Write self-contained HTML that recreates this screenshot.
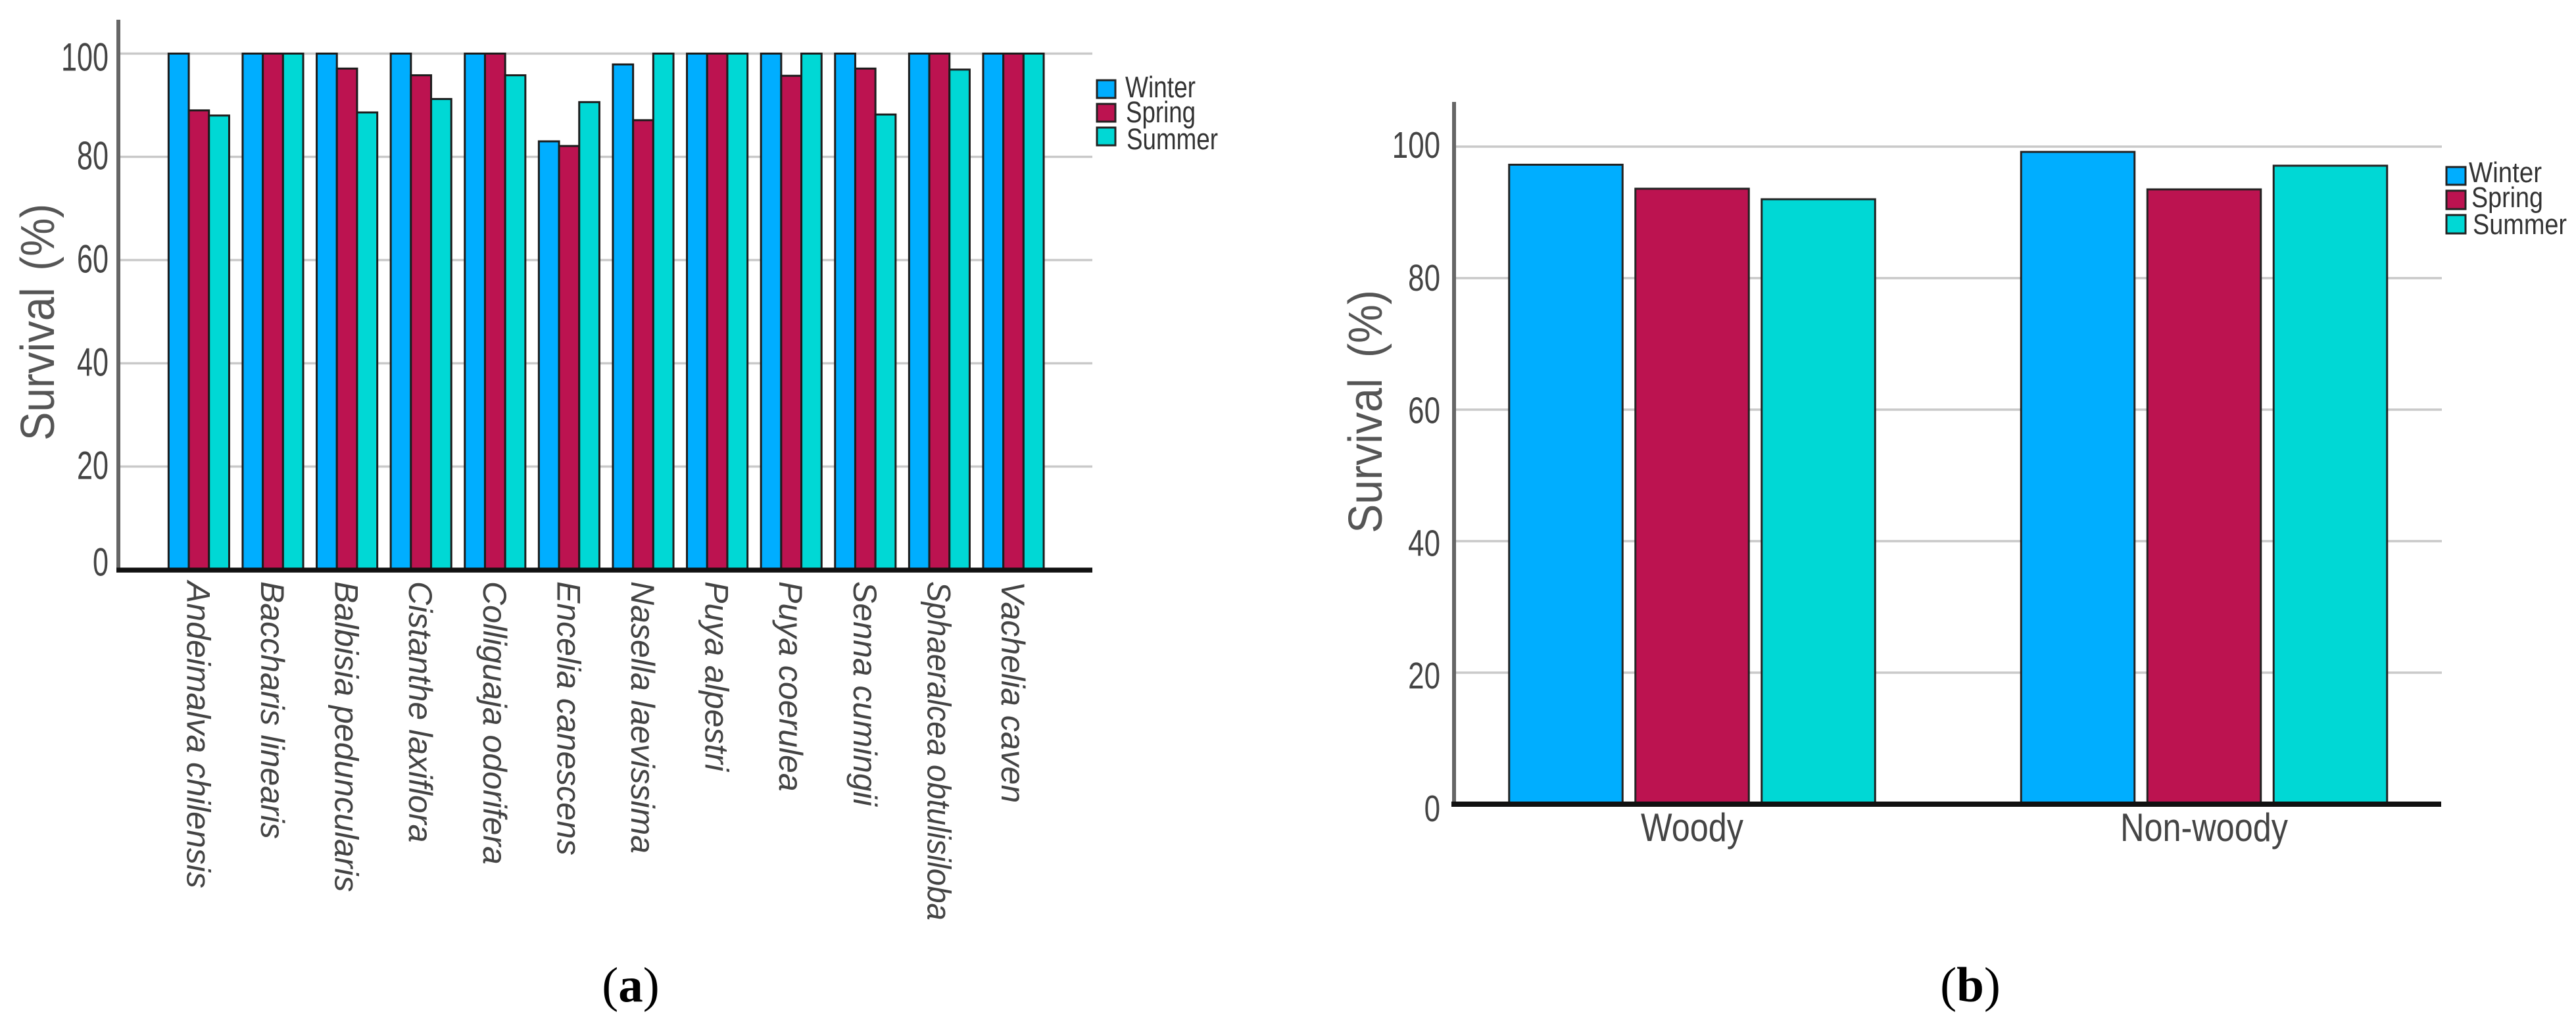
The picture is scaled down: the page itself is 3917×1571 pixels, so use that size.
<!DOCTYPE html>
<html lang="en">
<head>
<meta charset="utf-8">
<title>Survival by species and growth form</title>
<style>
html,body{margin:0;padding:0;background:#fff;width:3917px;height:1571px;overflow:hidden}
svg{display:block;font-family:"Liberation Sans",Arial,sans-serif}
</style>
</head>
<body>
<svg id="figure" xmlns="http://www.w3.org/2000/svg" width="3917" height="1571" viewBox="0 0 3917 1571">
  <rect x="0" y="0" width="3917" height="1571" fill="#fff"/>
  <g id="panel-a"></g>
  <g id="panel-b"></g>

  <text transform="translate(82,490) rotate(-90) scale(0.91,1)" text-anchor="middle" font-size="72" fill="#555" word-spacing="8">Survival (%)</text>
  <text transform="translate(2101,626) rotate(-90) scale(0.92,1)" text-anchor="middle" font-size="72" fill="#555" word-spacing="14">Survival (%)</text>

  <g>
    <rect x="1668" y="122" width="28" height="27" fill="#00AEFF" stroke="#222" stroke-width="3"/>
    <rect x="1668" y="158" width="28" height="27" fill="#BC1350" stroke="#222" stroke-width="3"/>
    <rect x="1668" y="194" width="28" height="27" fill="#00D8D5" stroke="#222" stroke-width="3"/>
    <text x="1711" y="148" font-size="45" fill="#333" textLength="107" lengthAdjust="spacingAndGlyphs">Winter</text>
    <text x="1712" y="186" font-size="45" fill="#333" textLength="106" lengthAdjust="spacingAndGlyphs">Spring</text>
    <text x="1713" y="227" font-size="45" fill="#333" textLength="139" lengthAdjust="spacingAndGlyphs">Summer</text>
  </g>

  <g>
    <rect x="3720" y="254" width="29" height="27" fill="#00AEFF" stroke="#222" stroke-width="3"/>
    <rect x="3720" y="290" width="29" height="28" fill="#BC1350" stroke="#222" stroke-width="3"/>
    <rect x="3720" y="327" width="29" height="28" fill="#00D8D5" stroke="#222" stroke-width="3"/>
    <text x="3754" y="277" font-size="44" fill="#333" textLength="111" lengthAdjust="spacingAndGlyphs">Winter</text>
    <text x="3758" y="315" font-size="44" fill="#333" textLength="109" lengthAdjust="spacingAndGlyphs">Spring</text>
    <text x="3760" y="356" font-size="44" fill="#333" textLength="143" lengthAdjust="spacingAndGlyphs">Summer</text>
  </g>

  <text x="959" y="1523" text-anchor="middle" font-size="75" fill="#000" style="font-family:'Liberation Serif',serif">(<tspan font-weight="bold">a</tspan>)</text>
  <text x="2996" y="1523" text-anchor="middle" font-size="75" fill="#000" style="font-family:'Liberation Serif',serif">(<tspan font-weight="bold">b</tspan>)</text>
</svg>

<script>
// Panel (a) data
const speciesCategories = ["Andeimalva chilensis","Baccharis linearis","Balbisia peduncularis","Cistanthe laxiflora","Colliguaja odorifera","Encelia canescens","Nasella laevissima","Puya alpestri","Puya coerulea","Senna cumingii","Sphaeralcea obtulisiloba","Vachelia caven"];
const speciesWinter = [100,100,100,100,100,83,97.9,100,100,100,100,100];
const speciesSpring = [89,100,97.1,95.8,100,82.1,87.1,100,95.7,97.1,100,100];
const speciesSummer = [88,100,88.6,91.2,95.8,90.6,100,100,100,88.2,96.9,100];

// Panel (b) data
const formCategories = ["Woody","Non-woody"];
const formWinter = [97.25,99.2];
const formSpring = [93.6,93.5];
const formSummer = [92,97.1];

// Shared
const yTickValues = [0,20,40,60,80,100];
const seasonNames = ["winter","spring","summer"];
const seasonColors = ["#00AEFF","#BC1350","#00D8D5"];

const SVGNS = "http://www.w3.org/2000/svg";
function make(tag, parent, attrs){
  const el = document.createElementNS(SVGNS, tag);
  for (const k in attrs) el.setAttribute(k, attrs[k]);
  parent.appendChild(el);
  return el;
}

// ---------- Panel A ----------
const gA = document.getElementById("panel-a");
const yA = v => 866.5 - v * 7.85;
const xA = i => 302.4 + i * 112.6;
const barWA = 30.7;
const tickOffsetA = v => v === 100 ? 26 : (v === 0 ? 9 : 19);
const labelFitA = name => name.length > 22 ? 0.947 : 1;

yTickValues.forEach(v => {
  if (v > 0) {
    const line = make("line", gA, {x1:183, x2:1661, y1:yA(v), y2:yA(v), stroke:"#c9c9c9", "stroke-width":3.5});
    
    
  }
  const t = make("text", gA, {transform:`translate(165,${yA(v)+tickOffsetA(v)}) scale(0.72,1)`, "text-anchor":"end", "font-size":60, fill:"#444"});
  
  
  t.textContent = v;
});

[speciesWinter, speciesSpring, speciesSummer].forEach((series, s) => {
  series.forEach((val, i) => {
    const r = make("rect", gA, {x:xA(i)+(s-1.5)*barWA, y:yA(val), width:barWA, height:yA(0)-yA(val), fill:seasonColors[s], stroke:"#1c1c1c", "stroke-width":3});
    
    
  });
});

speciesCategories.forEach((name, i) => {
  const t = make("text", gA, {transform:`translate(${xA(i)-18},884) rotate(90) scale(${labelFitA(name)},1)`, "font-size":50, "font-style":"italic", fill:"#444"});
  
  
  t.textContent = name;
});

const axisYA = make("line", gA, {x1:180, x2:180, y1:30, y2:870, stroke:"#666", "stroke-width":6});


const axisXA = make("line", gA, {x1:177, x2:1661, y1:867, y2:867, stroke:"#111", "stroke-width":7.5});



// ---------- Panel B ----------
const gB = document.getElementById("panel-b");
const yB = v => 1223 - v * 10;
const xB = i => 2573 + i * 778.5;
const barWB = 172.5;
const barStepB = 192;
const tickLabelB = v => 1249 - v * 10.09;

yTickValues.forEach(v => {
  if (v > 0) {
    const line = make("line", gB, {x1:2214, x2:3713, y1:yB(v), y2:yB(v), stroke:"#c9c9c9", "stroke-width":3.5});
    
    
  }
  const t = make("text", gB, {transform:`translate(2190,${tickLabelB(v)}) scale(0.77,1)`, "text-anchor":"end", "font-size":57, fill:"#444"});
  
  
  t.textContent = v;
});

[formWinter, formSpring, formSummer].forEach((series, s) => {
  series.forEach((val, i) => {
    const r = make("rect", gB, {x:xB(i)+(s-1)*barStepB-barWB/2, y:yB(val), width:barWB, height:yB(0)-yB(val), fill:seasonColors[s], stroke:"#222", "stroke-width":3});
    
    
  });
});

formCategories.forEach((name, i) => {
  const t = make("text", gB, {transform:`translate(${xB(i)},1279) scale(0.84,1)`, "text-anchor":"middle", "font-size":60, fill:"#444"});
  
  
  t.textContent = name;
});

const axisYB = make("line", gB, {x1:2211, x2:2211, y1:155, y2:1226, stroke:"#666", "stroke-width":6});


const axisXB = make("line", gB, {x1:2207, x2:3712, y1:1223, y2:1223, stroke:"#111", "stroke-width":8});


</script>
</body>
</html>
